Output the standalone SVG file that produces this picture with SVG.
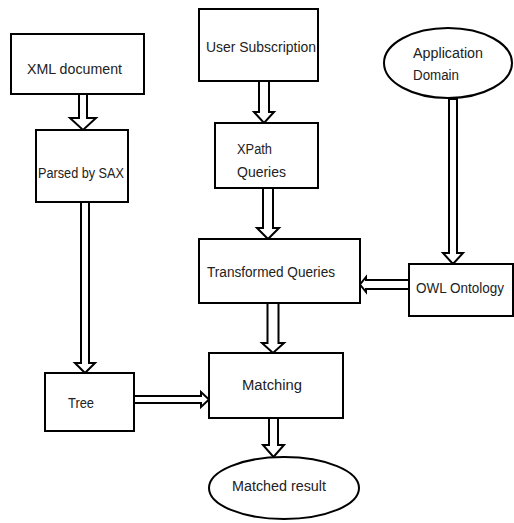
<svg xmlns="http://www.w3.org/2000/svg" width="514" height="523" viewBox="0 0 514 523">
<style>
.box{fill:#fff;stroke:#000;stroke-width:2}
.arr{fill:#fff;stroke:#000;stroke-width:2;stroke-linejoin:miter}
text{font-family:"Liberation Sans",Arial,sans-serif;font-size:15.5px;fill:#222}
</style>
<rect width="514" height="523" fill="#fff"/>
<g id="connectors">
<polygon class="arr" points="79,94 87,94 87,118 96,118 83,130 70,118 79,118"/>
<polygon class="arr" points="259,81 269,81 269,112 274,112 264,123 254,112 259,112"/>
<polygon class="arr" points="449,99 457,99 457,253 463,253 453,264 443,253 449,253"/>
<polygon class="arr" points="263,188 273,188 273,228 279,228 268,239 257,228 263,228"/>
<polygon class="arr" points="409,280 366,280 366,277 360,284.5 366,292 366,289 409,289"/>
<polygon class="arr" points="267.5,303 278.5,303 278.5,343 284,343 273,353 262,343 267.5,343"/>
<polygon class="arr" points="81,202 89,202 89,363 95,363 85,373 75,363 81,363"/>
<polygon class="arr" points="134,396 201,396 201,392 209,399.5 201,407 201,403 134,403"/>
<polygon class="arr" points="269,418 278,418 278,445 284,445 273.5,457 263,445 269,445"/>
</g>
<g id="xml-document"><rect class="box" x="11" y="34" width="133" height="60"/><text x="27" y="74" textLength="95" lengthAdjust="spacingAndGlyphs">XML document</text></g>
<g id="parsed-by-sax"><rect class="box" x="36" y="130" width="92" height="72"/><text x="38" y="178" textLength="86" lengthAdjust="spacingAndGlyphs">Parsed by SAX</text></g>
<g id="user-subscription"><rect class="box" x="199" y="9" width="119" height="72"/><text x="206" y="52" textLength="110" lengthAdjust="spacingAndGlyphs">User Subscription</text></g>
<g id="xpath-queries"><rect class="box" x="215" y="123" width="103" height="65"/><text x="237" y="154" textLength="35" lengthAdjust="spacingAndGlyphs">XPath</text><text x="237" y="177" textLength="49" lengthAdjust="spacingAndGlyphs">Queries</text></g>
<g id="application-domain"><ellipse class="box" cx="448" cy="63" rx="64" ry="35"/><text x="413" y="58" textLength="70" lengthAdjust="spacingAndGlyphs">Application</text><text x="413" y="80" textLength="46" lengthAdjust="spacingAndGlyphs">Domain</text></g>
<g id="transformed-queries"><rect class="box" x="199" y="239" width="161" height="64"/><text x="207" y="277" textLength="128" lengthAdjust="spacingAndGlyphs">Transformed Queries</text></g>
<g id="owl-ontology"><rect class="box" x="409" y="264" width="104" height="52"/><text x="416" y="293" textLength="88" lengthAdjust="spacingAndGlyphs">OWL Ontology</text></g>
<g id="tree"><rect class="box" x="45" y="373" width="89" height="58"/><text x="68" y="408" textLength="26" lengthAdjust="spacingAndGlyphs">Tree</text></g>
<g id="matching"><rect class="box" x="209" y="353" width="134" height="65"/><text x="242" y="390" textLength="60" lengthAdjust="spacingAndGlyphs">Matching</text></g>
<g id="matched-result"><ellipse class="box" cx="284" cy="488" rx="75" ry="31"/><text x="232" y="491" textLength="94" lengthAdjust="spacingAndGlyphs">Matched result</text></g>
</svg>
